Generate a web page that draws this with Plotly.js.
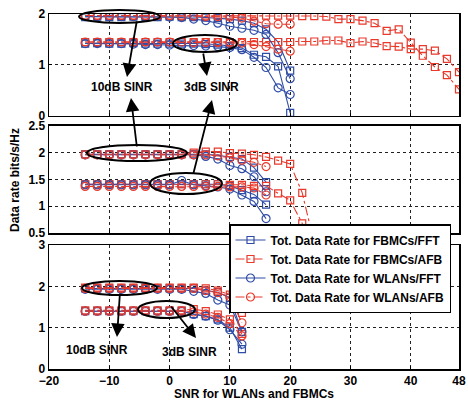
<!DOCTYPE html>
<html>
<head>
<meta charset="utf-8">
<script src="https://cdn.plot.ly/plotly-3.0.1.min.js"></script>
<style>html,body{margin:0;padding:0;background:#fff;}#chart{width:468px;height:402px;}</style>
</head>
<body>
<div id="chart"></div>
<script>
// ---------- data ----------
const snrTop = [-14,-12,-10,-8,-6,-4,-2,0,2,4,6,8,10,12,14,16,18,20];
const snrTopAfb = [-14,-12,-10,-8,-6,-4,-2,0,2,4,6,8,10,12,14,16,18,20,22,24,26,28,30,32,34,36,38,40,42,44,46,48];
const snrMid = [-14,-12,-10,-8,-6,-4,-2,0,2,4,6,8,10,12,14,16];
const snrMidAfb = [-14,-12,-10,-8,-6,-4,-2,0,2,4,6,8,10,12,14,16,18,20,22,24];
const snrBot = [-14,-12,-10,-8,-6,-4,-2,0,2,4,6,8,10,12];

// top panel
const topFbmcFftHi = [1.94,1.95,1.94,1.94,1.95,1.94,1.94,1.95,1.94,1.94,1.93,1.92,1.90,1.87,1.82,1.70,1.45,0.89];
const topWlanFftHi = [1.95,1.95,1.95,1.95,1.95,1.95,1.95,1.94,1.93,1.90,1.87,1.82,1.76,1.72,1.68,1.60,1.24,0.73];
const topFbmcFftLo = [1.42,1.43,1.42,1.42,1.43,1.42,1.42,1.42,1.42,1.42,1.41,1.40,1.37,1.33,1.20,1.16,0.97,0.06];
const topWlanFftLo = [1.42,1.42,1.42,1.42,1.41,1.40,1.40,1.39,1.38,1.38,1.37,1.36,1.34,1.30,1.15,0.95,0.55,0.42];
const topWlanAfbHi = [1.97,1.97,1.97,1.97,1.97,1.97,1.97,1.97,1.96,1.96,1.95,1.95,1.94,1.92,1.86,1.81,1.80,1.80];
const topWlanAfbLo = [1.45,1.45,1.45,1.45,1.45,1.45,1.45,1.45,1.45,1.44,1.44,1.44,1.43,1.43,1.40,1.36,1.31,1.27];
const topFbmcAfbHi = [1.97,1.97,1.97,1.97,1.97,1.97,1.97,1.97,1.97,1.97,1.97,1.97,1.97,1.97,1.97,1.97,1.97,1.97,1.96,1.96,1.95,1.90,1.90,1.87,1.82,1.67,1.70,1.44,1.18,0.96,0.80,0.52];
const topFbmcAfbLo = [1.45,1.45,1.45,1.45,1.45,1.45,1.45,1.45,1.45,1.45,1.45,1.45,1.45,1.45,1.45,1.45,1.45,1.45,1.46,1.46,1.48,1.48,1.43,1.46,1.43,1.37,1.36,1.31,1.31,1.28,1.12,0.86];

// middle panel
const midFbmcFftHi = [1.97,1.97,1.97,1.97,1.97,1.97,1.97,1.97,1.97,1.97,1.97,1.95,1.92,1.88,1.72,1.45];
const midWlanFftHi = [1.96,1.96,1.96,1.96,1.96,1.96,1.96,1.96,1.96,1.96,1.93,1.88,1.76,1.70,1.55,1.27];
const midFbmcFftLo = [1.41,1.41,1.41,1.41,1.41,1.41,1.41,1.41,1.41,1.41,1.41,1.41,1.38,1.30,1.22,1.03];
const midWlanFftLo = [1.40,1.40,1.40,1.40,1.40,1.40,1.40,1.40,1.48,1.40,1.38,1.36,1.32,1.21,1.09,0.77];
const midWlanAfbHi = [1.96,1.96,1.96,1.96,1.96,1.96,1.96,1.96,1.96,1.96,1.96,1.94,1.90,1.86,1.82,1.74];
const midWlanAfbLo = [1.37,1.37,1.37,1.37,1.37,1.37,1.37,1.37,1.37,1.37,1.37,1.37,1.36,1.36,1.34,1.21];
const midFbmcAfbHi = [1.97,1.97,1.97,1.97,1.97,1.97,1.97,1.97,1.97,2.00,2.02,2.02,1.99,1.98,1.96,1.92,1.85,1.79,1.25,0.30];
const midFbmcAfbLo = [1.41,1.41,1.41,1.41,1.41,1.41,1.41,1.41,1.41,1.41,1.41,1.41,1.40,1.40,1.38,1.38,1.24,1.11,0.68,0.10];

// bottom panel
const botFbmcFftHi = [1.95,1.95,1.95,1.95,1.95,1.95,1.95,1.95,1.95,1.95,1.90,1.86,1.72,0.90];
const botWlanFftHi = [1.93,1.93,1.93,1.93,1.93,1.93,1.93,1.93,1.93,1.88,1.83,1.67,1.55,0.90];
const botFbmcAfbHi = [1.97,1.97,1.97,1.97,1.97,1.97,1.97,1.97,1.97,1.97,1.95,1.90,1.80,1.36];
const botWlanAfbHi = [1.95,1.95,1.95,1.95,1.95,1.95,1.95,1.95,1.95,1.95,1.90,1.85,1.75,1.12];
const botFbmcFftLo = [1.40,1.40,1.40,1.40,1.40,1.40,1.40,1.40,1.40,1.33,1.28,1.20,1.00,0.48];
const botWlanFftLo = [1.40,1.40,1.40,1.40,1.40,1.40,1.40,1.40,1.40,1.32,1.28,1.18,0.95,0.60];
const botFbmcAfbLo = [1.42,1.42,1.42,1.42,1.42,1.42,1.42,1.42,1.42,1.45,1.40,1.32,1.20,0.85];
const botWlanAfbLo = [1.40,1.40,1.40,1.40,1.40,1.40,1.40,1.40,1.40,1.38,1.33,1.25,1.10,0.80];

const seriesNames = ['Tot. Data Rate for FBMCs/FFT','Tot. Data Rate for FBMCs/AFB','Tot. Data Rate for WLANs/FFT','Tot. Data Rate for WLANs/AFB'];
const xTicks = [-20,-10,0,10,20,30,40,48];
const annoTexts = ['10dB SINR','3dB SINR'];

// ---------- styling ----------
const BLUE = '#2f4da6', RED = '#e8392b';
const styles = [
  {color: BLUE, dash: 'solid',   symbol: 'square-open', size: 7},
  {color: RED,  dash: 'dashdot', symbol: 'square-open', size: 7},
  {color: BLUE, dash: 'solid',   symbol: 'circle-open', size: 8},
  {color: RED,  dash: 'dashdot', symbol: 'circle-open', size: 8}
];
// [type, xarr, yarr, xaxis, yaxis]
const sets = [
  [0, snrBot, botFbmcFftHi, 'x','y'], [0, snrBot, botFbmcFftLo, 'x','y'],
  [0, snrMid, midFbmcFftHi, 'x2','y2'], [0, snrMid, midFbmcFftLo, 'x2','y2'],
  [0, snrTop, topFbmcFftHi, 'x3','y3'], [0, snrTop, topFbmcFftLo, 'x3','y3'],
  [1, snrBot, botFbmcAfbHi, 'x','y'], [1, snrBot, botFbmcAfbLo, 'x','y'],
  [1, snrMidAfb, midFbmcAfbHi, 'x2','y2'], [1, snrMidAfb, midFbmcAfbLo, 'x2','y2'],
  [1, snrTopAfb, topFbmcAfbHi, 'x3','y3'], [1, snrTopAfb, topFbmcAfbLo, 'x3','y3'],
  [2, snrBot, botWlanFftHi, 'x','y'], [2, snrBot, botWlanFftLo, 'x','y'],
  [2, snrMid, midWlanFftHi, 'x2','y2'], [2, snrMid, midWlanFftLo, 'x2','y2'],
  [2, snrTop, topWlanFftHi, 'x3','y3'], [2, snrTop, topWlanFftLo, 'x3','y3'],
  [3, snrBot, botWlanAfbHi, 'x','y'], [3, snrBot, botWlanAfbLo, 'x','y'],
  [3, snrMid, midWlanAfbHi, 'x2','y2'], [3, snrMid, midWlanAfbLo, 'x2','y2'],
  [3, snrTop, topWlanAfbHi, 'x3','y3'], [3, snrTop, topWlanAfbLo, 'x3','y3']
];
const seen = {};
const traces = sets.map(s => {
  const st = styles[s[0]];
  const first = !seen[s[0]]; seen[s[0]] = true;
  return {
    type: 'scatter', mode: 'lines+markers', x: s[1], y: s[2], xaxis: s[3], yaxis: s[4],
    name: seriesNames[s[0]], legendgroup: 'g' + s[0], showlegend: first,
    line: {color: st.color, width: 1.1, dash: st.dash},
    marker: {symbol: st.symbol, size: st.size, color: st.color, line: {color: st.color, width: 1.2}}
  };
});

// pixel -> paper helpers (plot area: x 49..459, y 14..369)
const PL = 49, PW = 410, PB = 369, PH = 355;
const px = v => (v - PL) / PW;
const py = v => (PB - v) / PH;

const FONT = {family: 'Liberation Sans, Arial, sans-serif', size: 12, color: '#000', weight: 'bold'};

function ell(x0, x1, y0, y1) {
  return {type: 'circle', xref: 'paper', yref: 'paper', x0: px(x0), x1: px(x1), y0: py(y1), y1: py(y0),
          line: {color: '#000', width: 2}, fillcolor: 'rgba(0,0,0,0)', layer: 'above'};
}
function arrow(hx, hy, tx, ty) {
  return {xref: 'paper', yref: 'paper', x: px(hx), y: py(hy), ax: tx - hx, ay: ty - hy,
          text: '', showarrow: true, arrowhead: 2, arrowsize: 1.5, arrowwidth: 1.8, arrowcolor: '#000'};
}
function label(t, cx, cy) {
  return {xref: 'paper', yref: 'paper', x: px(cx), y: py(cy), xanchor: 'center', yanchor: 'middle',
          text: t, showarrow: false, font: FONT};
}

const shapes = [
  ell(79, 160, 10, 23), ell(173, 237, 35, 52),     // top
  ell(87, 187, 145, 161), ell(150, 222, 173, 194), // middle
  ell(82, 157, 281, 295), ell(138, 195, 301, 318)  // bottom
];
const annotations = [
  arrow(127, 77, 137, 20), arrow(207, 76, 203, 52),
  arrow(131, 98, 137, 148), arrow(212, 100, 193, 175),
  arrow(117, 337, 120, 292), arrow(196, 338, 170, 305),
  label(annoTexts[0], 122, 87), label(annoTexts[1], 211, 87),
  label(annoTexts[0], 97, 350), label(annoTexts[1], 189, 352),
  {xref: 'paper', yref: 'paper', x: px(15), y: py(180), textangle: -90, xanchor: 'center', yanchor: 'middle',
   text: 'Data rate bits/s/Hz', showarrow: false, font: FONT},
  {xref: 'paper', yref: 'paper', x: px(254), y: py(394), xanchor: 'center', yanchor: 'middle',
   text: 'SNR for WLANs and FBMCs', showarrow: false, font: FONT}
];

const axBase = {
  showline: true, mirror: true, linecolor: '#000', linewidth: 1.5,
  showgrid: true, gridcolor: '#222', griddash: 'dot', gridwidth: 1,
  zeroline: false, ticks: 'inside', ticklen: 3, tickcolor: '#000',
  tickfont: FONT
};
const xBase = Object.assign({}, axBase, {range: [-20, 48], tickmode: 'array', tickvals: xTicks});

const layout = {
  width: 468, height: 402,
  margin: {l: 49, r: 9, t: 14, b: 33},
  paper_bgcolor: '#fff', plot_bgcolor: '#fff',
  font: FONT,
  showlegend: true,
  legend: {x: px(229), y: py(224), xanchor: 'left', yanchor: 'top', bgcolor: '#fff',
           bordercolor: '#000', borderwidth: 1.5, font: FONT, tracegroupgap: 0, itemwidth: 30},
  xaxis: Object.assign({}, xBase, {anchor: 'y', domain: [0, 1]}),
  xaxis2: Object.assign({}, xBase, {anchor: 'y2', domain: [0, 1], matches: 'x', showticklabels: false}),
  xaxis3: Object.assign({}, xBase, {anchor: 'y3', domain: [0, 1], matches: 'x', showticklabels: false}),
  yaxis: Object.assign({}, axBase, {anchor: 'x', domain: [0, 0.349], range: [0, 3], dtick: 1}),
  yaxis2: Object.assign({}, axBase, {anchor: 'x2', domain: [0.383, 0.685], range: [0.5, 2.5], dtick: 0.5}),
  yaxis3: Object.assign({}, axBase, {anchor: 'x3', domain: [0.713, 1], range: [0, 2], dtick: 1}),
  shapes: shapes,
  annotations: annotations
};

Plotly.newPlot('chart', traces, layout, {staticPlot: true, displayModeBar: false});
</script>
</body>
</html>
